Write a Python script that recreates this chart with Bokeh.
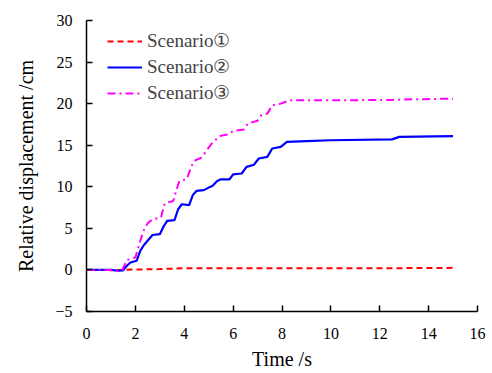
from bokeh.plotting import figure
from bokeh.models import Range1d, Legend, LegendItem, FixedTicker
from bokeh.embed import file_html
from bokeh.resources import INLINE

# Time (s) and relative displacement (cm) for each scenario
t1 = [0, 1.0, 1.5, 2.0, 3.0, 4.0, 6.0, 8.0, 10.0, 12.0, 15.0]
s1 = [0, 0, 0, 0.05, 0.1, 0.2, 0.2, 0.2, 0.2, 0.2, 0.25]

t2 = [0, 1.0, 1.3, 1.5, 1.65, 1.8, 2.05, 2.2, 2.35, 2.5, 2.7, 3.0, 3.15, 3.3,
      3.6, 3.75, 3.9, 4.2, 4.35, 4.5, 4.8, 5.0, 5.15, 5.35, 5.5, 5.85, 6.0,
      6.35, 6.55, 6.85, 7.05, 7.4, 7.6, 7.95, 8.2, 9.0, 10.0, 12.5, 12.8, 15.0]
s2 = [0, 0, -0.1, -0.05, 0.5, 0.9, 1.1, 2.3, 3.0, 3.5, 4.2, 4.3, 5.2, 5.9,
      6.0, 7.3, 7.9, 7.8, 9.0, 9.5, 9.6, 9.9, 10.1, 10.7, 10.9, 10.9, 11.5,
      11.6, 12.4, 12.65, 13.4, 13.6, 14.6, 14.8, 15.4, 15.5, 15.6, 15.7, 16.0, 16.1]

t3 = [0, 0.9, 1.2, 1.45, 1.65, 2.0, 2.2, 2.35, 2.5, 2.7, 3.05, 3.2, 3.55, 3.7,
      3.8, 4.1, 4.3, 4.4, 4.7, 4.95, 5.15, 5.45, 5.8, 6.0, 6.45, 6.6, 7.0,
      7.15, 7.4, 7.6, 7.95, 8.3, 10.0, 12.5, 13.0, 15.0]
s3 = [0, 0, -0.15, -0.1, 1.2, 1.5, 3.5, 4.8, 5.6, 6.1, 6.3, 8.0, 8.3, 9.8,
      10.7, 10.9, 12.5, 13.1, 13.5, 14.5, 15.3, 16.1, 16.3, 16.7, 16.9, 17.6, 17.95,
      18.6, 18.8, 19.8, 20.0, 20.4, 20.4, 20.45, 20.5, 20.6]

labels = ["Scenario\u2460", "Scenario\u2461", "Scenario\u2462"]
x_ticks = [0, 2, 4, 6, 8, 10, 12, 14, 16]
y_ticks = [-5, 0, 5, 10, 15, 20, 25, 30]

FONT = "Liberation Serif"

p = figure(width=492, height=373, output_backend="svg", toolbar_location=None,
           x_range=Range1d(0, 16), y_range=Range1d(-5, 30),
           min_border_left=86, min_border_right=15, min_border_top=20,
           min_border_bottom=62)
p.outline_line_color = None
p.xgrid.visible = False
p.ygrid.visible = False

r1 = p.line(t1, s1, line_color="#FF0000", line_width=2, line_dash="6 4")
r2 = p.line(t2, s2, line_color="#0000FF", line_width=2.2)
r3 = p.line(t3, s3, line_color="#FF00FF", line_width=2, line_dash="8 4 2 4")

p.xaxis.ticker = FixedTicker(ticks=x_ticks)
p.yaxis.ticker = FixedTicker(ticks=y_ticks)
p.yaxis.major_label_overrides = {-5: "\u22125"}
p.xaxis.axis_label = "Time /s"
p.yaxis.axis_label = "Relative displacement /cm"

p.axis.axis_line_color = "black"
p.axis.axis_line_width = 1.5
p.axis.major_tick_in = 6
p.axis.major_tick_out = 0
p.axis.major_tick_line_width = 1.5
p.axis.minor_tick_line_color = None
p.axis.major_label_text_font = FONT
p.axis.major_label_text_font_size = "16px"
p.axis.major_label_text_color = "black"
p.axis.axis_label_text_font = FONT
p.axis.axis_label_text_font_size = "20px"
p.axis.axis_label_text_font_style = "normal"
p.axis.axis_label_text_color = "black"
p.xaxis.major_label_standoff = 16
p.yaxis.major_label_standoff = 14
p.xaxis.axis_label_standoff = 6
p.yaxis.axis_label_standoff = 15

legend = Legend(items=[LegendItem(label=labels[0], renderers=[r1]),
                       LegendItem(label=labels[1], renderers=[r2]),
                       LegendItem(label=labels[2], renderers=[r3])],
                location=(21, 207), glyph_width=35, glyph_height=20,
                label_height=20, spacing=3, padding=0, margin=0,
                border_line_color=None, background_fill_alpha=0,
                label_text_font=FONT, label_text_font_size="19px",
                label_standoff=5)
p.add_layout(legend)

open("out.html", "w").write(file_html(p, INLINE))
